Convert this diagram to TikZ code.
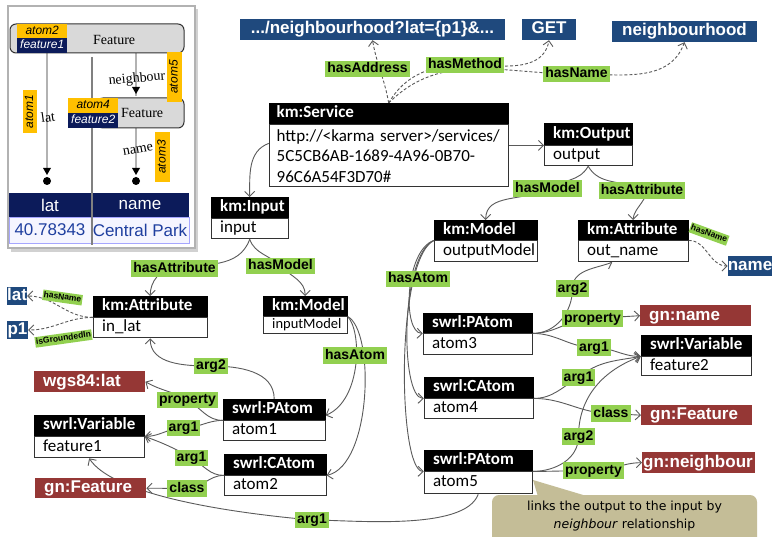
\documentclass[tikz,border=0pt]{standalone}
\usepackage{fontspec}
\usepackage{tikz}
\usetikzlibrary{positioning,arrows.meta}
\setmainfont{Carlito}
\newfontfamily\arialfont{Liberation Sans}
\newfontfamily\timesfont{Liberation Serif}
\newfontfamily\notefont{DejaVu Sans}

\definecolor{lblgreen}{HTML}{92D050}
\definecolor{valblue}{HTML}{1F497D}
\definecolor{entred}{HTML}{953735}
\definecolor{notebg}{HTML}{C4BD97}
\definecolor{linegray}{HTML}{5A5A5A}
\definecolor{insetnavy}{HTML}{0C1B5A}
\definecolor{tagamber}{HTML}{FFC000}
\definecolor{cellblue}{HTML}{1F3F9F}

\pgfdeclarelayer{background}
\pgfsetlayers{background,main}

\tikzstyle{hdr} = [anchor=north west, draw=black, fill=black, text=white, font=\bfseries\fontsize{17}{20}\selectfont, inner xsep=9pt, inner ysep=0pt, minimum height=21pt, text height=12pt, text depth=3.5pt, align=left]
\tikzstyle{bdy} = [draw=black!80, fill=white, line width=0.9pt, font=\fontsize{17}{20.5}\selectfont, inner xsep=9pt, inner ysep=0pt, minimum height=20pt, text height=12pt, text depth=4pt, align=left]
\tikzstyle{val} = [fill=valblue, text=white, font=\arialfont\bfseries\fontsize{17}{17}\selectfont, inner sep=0pt, minimum height=21pt, text height=12.5pt, text depth=3.5pt]
\tikzstyle{ent} = [anchor=north west, fill=entred, text=white, font=\arialfont\bfseries\fontsize{17}{17}\selectfont, inner xsep=9pt, inner ysep=0pt, minimum height=21pt, text width=93pt, align=left, text height=12.5pt, text depth=3.5pt]
\tikzstyle{lbl} = [fill=lblgreen, font=\arialfont\bfseries\fontsize{14}{14}\selectfont, inner xsep=2pt, inner ysep=1.5pt, text height=10.5pt, text depth=3pt]
\tikzstyle{slbl} = [fill=lblgreen, font=\arialfont\bfseries\fontsize{8.5}{8.5}\selectfont, inner xsep=1pt, inner ysep=1pt, text height=6.5pt, text depth=2pt]
\tikzstyle{rel} = [draw=linegray, line width=0.9pt, -{Straight Barb[length=5pt,width=10pt]}]
\tikzstyle{dashrel} = [rel, dash pattern=on 3pt off 2pt]
\tikzstyle{tag} = [fill=tagamber, font=\arialfont\itshape\fontsize{12}{12}\selectfont, inner sep=0pt, text height=8.5pt, text depth=2.5pt]
\tikzstyle{serif} = [font=\timesfont\fontsize{14}{14}\selectfont, inner sep=0pt]

\begin{document}
\begin{tikzpicture}[x=1pt, y=-1pt]
\useasboundingbox (0,0) rectangle (773,537);

% screenshot of the mapping
\fill[black!18] (11,9) rectangle (198,252);
\draw[draw=black!30, line width=2.5pt, fill=white] (8,6) rectangle (195,248);
\fill[insetnavy] (9,193) rectangle (189,217);
\draw[fill=blue!4, draw=blue!35] (9,217) rectangle (189,243);
\node[font=\arialfont\fontsize{17}{17}\selectfont, text=white] (colLat) at (50,205) {lat};
\node[font=\arialfont\fontsize{17}{17}\selectfont, text=white] (colName) at (140,205) {name};
\node[font=\arialfont\fontsize{17}{17}\selectfont, text=cellblue, inner sep=0pt] (cellLat) at (50,230) {40.78343};
\node[font=\arialfont\fontsize{17}{17}\selectfont, text=cellblue, inner sep=0pt] (cellName) at (140,230) {Central Park};
\draw[black!50, line width=2.5pt] (92,57) -- (92,245);

\draw[black!30, line width=1.2pt] (47,53) -- (47,172);
\draw[black!30, line width=1.2pt] (136,53) -- (136,96);
\draw[black!30, line width=1.2pt] (136,128) -- (136,172);
\fill (43,168) -- (51,168) -- (47,175) -- cycle;
\fill (132,168) -- (140,168) -- (136,175) -- cycle;
\fill (132,87) -- (140,87) -- (136,94) -- cycle;
\fill (47,181) circle (4);
\fill (136,181) circle (4);

\draw[draw=black!80, fill=black!15, rounded corners=6pt, line width=1pt] (10,24) rectangle (184,53);
\draw[draw=black!80, fill=black!15, rounded corners=6pt, line width=1pt] (97,98) rectangle (184,128);
\node[tag, anchor=north west, minimum width=50pt, minimum height=14pt] (tagA2) at (17,24) {atom2};
\node[tag, anchor=north west, minimum width=50pt, minimum height=15pt, fill=insetnavy, text=white] (tagF1) at (17,38) {feature1};
\node[tag, anchor=north west, minimum width=50pt, minimum height=15pt] (tagA4) at (68,98) {atom4};
\node[tag, anchor=north west, minimum width=50pt, minimum height=15pt, fill=insetnavy, text=white] (tagF2) at (68,113) {feature2};
\node[serif, anchor=west] (featA) at (93,40) {Feature};
\node[serif, anchor=west] (featB) at (121,113) {Feature};
\node[serif, rotate=5] (nbhText) at (137,79) {neighbour};
\node[serif, rotate=8] (latText) at (48,117) {lat};
\node[serif, rotate=10] (nameText) at (138,150) {name};
\node[tag, rotate=90, minimum width=43pt, minimum height=14pt] (tagA1) at (30,111.5) {atom1};
\node[tag, rotate=90, minimum width=50pt, minimum height=15pt] (tagA5) at (174.5,77) {atom5};
\node[tag, rotate=90, minimum width=50pt, minimum height=15pt] (tagA3) at (162.5,157) {atom3};

% model classes
\node[hdr, text width=224pt, inner xsep=7.5pt] (srv) at (269,103) {km:Service};
\node[bdy, text width=224pt, inner xsep=7.5pt, below=0pt of srv, minimum height=62pt, text height={}, text depth={}] (srv-b) {http://<karma server>/services/\\5C5CB6AB-1689-4A96-0B70-\\96C6A54F3D70\#};
\node[hdr, text width=70pt, minimum height=22pt] (out) at (544,123) {km:Output};
\node[bdy, text width=70pt, below=0pt of out] (out-b) {output};
\node[hdr, text width=59pt] (inp) at (211,197) {km:Input};
\node[bdy, text width=59pt, below=0pt of inp] (inp-b) {input};
\node[hdr, text width=96pt] (inattr) at (93,296) {km:Attribute};
\node[bdy, text width=96pt, below=0pt of inattr] (inattr-b) {in\_lat};
\node[hdr, text width=66pt, minimum height=20pt] (inmod) at (263,296) {km:Model};
\node[bdy, text width=66pt, below=0pt of inmod, minimum height=17pt, font=\fontsize{14.5}{16}\selectfont, text height=10pt, text depth=3pt] (inmod-b) {inputModel};
\node[hdr, text width=85pt, minimum height=20pt] (outmod) at (434,220) {km:Model};
\node[bdy, text width=85pt, below=0pt of outmod, minimum height=21pt] (outmod-b) {outputModel};
\node[hdr, text width=92pt, minimum height=20pt] (outattr) at (578,220) {km:Attribute};
\node[bdy, text width=92pt, below=0pt of outattr, minimum height=21pt] (outattr-b) {out\_name};

% swrl atoms and variables
\node[hdr, text width=92pt] (var1) at (34,415) {swrl:Variable};
\node[bdy, text width=92pt, below=0pt of var1, minimum height=21pt] (var1-b) {feature1};
\node[hdr, text width=84pt] (at1) at (223,399) {swrl:PAtom};
\node[bdy, text width=84pt, below=0pt of at1] (at1-b) {atom1};
\node[hdr, text width=84pt] (at2) at (224,454) {swrl:CAtom};
\node[bdy, text width=84pt, below=0pt of at2] (at2-b) {atom2};
\node[hdr, text width=91pt, minimum height=20pt] (at3) at (423,313) {swrl:PAtom};
\node[bdy, text width=91pt, below=0pt of at3, minimum height=21pt] (at3-b) {atom3};
\node[hdr, text width=92pt] (var2) at (641,335) {swrl:Variable};
\node[bdy, text width=92pt, below=0pt of var2, minimum height=19pt] (var2-b) {feature2};
\node[hdr, text width=91pt] (at4) at (424,377) {swrl:CAtom};
\node[bdy, text width=91pt, below=0pt of at4] (at4-b) {atom4};
\node[hdr, text width=90pt] (at5) at (424,450) {swrl:PAtom};
\node[bdy, text width=90pt, below=0pt of at5, minimum height=22pt] (at5-b) {atom5};

% literal values
\node[val, minimum width=265pt] (addr) at (372.5,29.5) {.../neighbourhood?lat=\{p1\}\&...};
\node[val, minimum width=54pt] (get) at (549,29.5) {GET};
\node[val, minimum width=145pt] (nbh) at (684.5,31.5) {neighbourhood};
\node[val, minimum width=20pt, minimum height=18pt] (lat) at (17,296) {lat};
\node[val, minimum width=21pt, minimum height=18pt] (p1) at (17.5,330) {p1};
\node[val, minimum width=44pt, minimum height=20pt] (name) at (750,266) {name};

% ontology terms
\node[ent] (wgs) at (34,371) {wgs84:lat};
\node[ent, minimum height=20pt] (gnF1) at (35,478) {gn:Feature};
\node[ent] (gnname) at (640,305) {gn:name};
\node[ent, minimum height=20pt] (gnF2) at (641,405) {gn:Feature};
\node[ent, inner xsep=1pt, text width=111pt] (gnnb) at (642,452) {gn:neighbour};

% note
\fill[notebg] (533,480) -- (539,500) -- (600,500) -- cycle;
\fill[notebg, rounded corners=7pt] (492,495) rectangle (757,550);
\node[font=\notefont\fontsize{12.5}{18}\selectfont, align=center] (note) at (624.5,516) {links the output to the input by\\\textit{neighbour} relationship};

% property labels
\node[lbl] (lAddr) at (367.5,69) {hasAddress};
\node[lbl] (lMethod) at (465,65) {hasMethod};
\node[lbl] (lName) at (576.5,74) {hasName};
\node[lbl] (lModelOut) at (547.5,188.5) {hasModel};
\node[lbl] (lAttrOut) at (642,190.5) {hasAttribute};
\node[slbl, rotate=-20] (lNameOut) at (709,234) {hasName};
\node[lbl] (lAttrIn) at (174.5,268.5) {hasAttribute};
\node[lbl] (lModelIn) at (280.5,266) {hasModel};
\node[slbl, rotate=-8] (lNameIn) at (62.5,297.5) {hasName};
\node[slbl, rotate=8] (lGround) at (63.5,338.5) {isGroundedIn};
\node[lbl] (lArg2a) at (211,366) {arg2};
\node[lbl] (lAtomIn) at (355,355.5) {hasAtom};
\node[lbl] (lAtomOut) at (418,279) {hasAtom};
\node[lbl] (lProp1) at (187.5,400) {property};
\node[lbl] (lArg1a) at (183.5,428) {arg1};
\node[lbl] (lArg1b) at (191.5,458) {arg1};
\node[lbl] (lClass1) at (187,488.5) {class};
\node[lbl] (lArg1c) at (312,520) {arg1};
\node[lbl] (lArg2b) at (572.5,288.5) {arg2};
\node[lbl] (lProp2) at (592.5,318.5) {property};
\node[lbl] (lArg1d) at (594,347.5) {arg1};
\node[lbl] (lArg1e) at (578.5,377.5) {arg1};
\node[lbl] (lClass2) at (611,413.5) {class};
\node[lbl] (lArg2c) at (578.5,436.5) {arg2};
\node[lbl] (lProp3) at (593.5,470.5) {property};

\begin{pgfonlayer}{background}
\fill[white] (0,0) rectangle (773,537);
% service
\draw[dashrel] (srv.north) to[out=100,in=-80] (addr.south);
\draw[dashrel] (srv.north) to[out=60,in=180] (lMethod.center) to[out=0,in=-100] (get.south);
\draw[dashrel] (srv.north) to[out=45,in=180] (lName.center) to[out=0,in=-110] (nbh.south);
\draw[rel] (srv-b.east |- out.south) -- (out.south west);
\draw[rel] ([yshift=-19pt]srv-b.north west) to[out=-160,in=90] (inp.north);
% input and output
\draw[rel] (inp-b.south) to[out=-110,in=10] (lAttrIn.center) to[out=180,in=90] (inattr.north);
\draw[rel] (inp-b.south) to[out=-70,in=135] (lModelIn.center) to[out=-45,in=90] (inmod.north);
\draw[rel] (out-b.south) to[out=-120,in=30] (lModelOut.center) to[out=-150,in=90] (outmod.north);
\draw[rel] (out-b.south) to[out=-60,in=150] (lAttrOut.center) to[out=-30,in=90] (outattr.north);
\draw[dashrel] (inattr-b.north west) to[out=180,in=0] (lat.east);
\draw[dashrel] (inattr-b.north west) to[out=180,in=0] (p1.east);
\draw[dashrel] (outattr-b.north east) to[out=0,in=180] (name.west);
% atoms of the models
\draw[rel] (inmod.south east) .. controls (362,330) and (362,400) .. ([yshift=5pt]at1-b.north east);
\draw[rel] (inmod.south east) .. controls (375,330) and (372,465) .. (at2-b.north east);
\draw[rel] (outmod.south west) .. controls (405,250) and (402,333) .. (at3-b.north west);
\draw[rel] (outmod.south west) .. controls (400,255) and (400,398) .. (at4-b.north west);
\draw[rel] (outmod.south west) .. controls (395,260) and (398,471) .. (at5-b.north west);
% arguments, left
\draw[rel] (at1.north) to[out=90,in=0] (lArg2a.center) to[out=180,in=-90] (inattr-b.south);
\draw[rel] (at1-b.north west) to[out=180,in=-30] (lProp1.center) to[out=150,in=-30] (wgs.east);
\draw[rel] (at1-b.north west) to[out=180,in=0] (lArg1a.center) to[out=180,in=0] (var1-b.north east);
\draw[rel] (at2-b.north west) to[out=180,in=-30] (lArg1b.center) to[out=150,in=-20] (var1-b.north east);
\draw[rel] (at2-b.north west) to[out=180,in=0] (lClass1.center) to[out=180,in=0] (gnF1.east);
\draw[rel] (at5-b.south) to[out=-110,in=0,looseness=0.6] (lArg1c.center) .. controls (200,510) and (110,490) .. (var1-b.south);
% arguments, right
\draw[rel] (at3-b.north east) to[out=0,in=-90] (lArg2b.center) to[out=90,in=-160] ([xshift=-21pt]outattr-b.south);
\draw[rel] (at3-b.north east) to[out=0,in=180] (lProp2.center) -- (gnname.west);
\draw[rel] (at3-b.north east) to[out=0,in=180] (lArg1d.center) to[out=0,in=180] (var2-b.north west);
\draw[rel] (at4-b.north east) to[out=0,in=-150] (lArg1e.center) to[out=40,in=-170] (var2-b.north west);
\draw[rel] (at4-b.north east) to[out=0,in=180] (lClass2.center) -- (gnF2.west);
\draw[rel] (at5-b.north east) to[out=0,in=-90] (lArg2c.center) to[out=90,in=-160] (var2-b.north west);
\draw[rel] (at5-b.north east) to[out=0,in=180] (lProp3.center) to[out=0,in=180] (gnnb.west);
\end{pgfonlayer}
\end{tikzpicture}
\end{document}
